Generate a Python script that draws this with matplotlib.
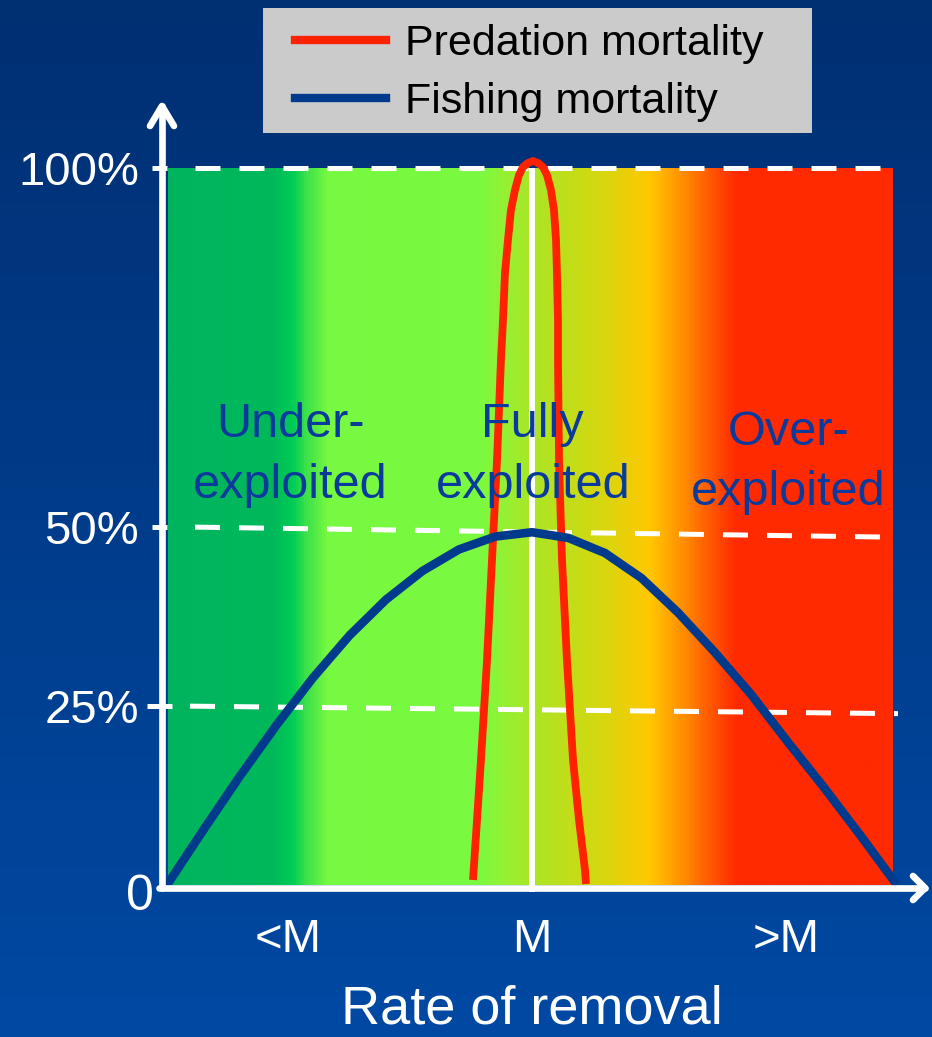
import numpy as np
import matplotlib.pyplot as plt
from matplotlib.colors import LinearSegmentedColormap
from matplotlib.patches import Rectangle
from matplotlib.lines import Line2D

plt.rcParams['font.family'] = ['Liberation Sans', 'DejaVu Sans']

# fishing mortality (share of stock, %) against rate of removal (0-100)
fishing_x = [0, 5, 10, 15, 20, 25, 30, 35, 40, 45, 50,
             55, 60, 65, 70, 75, 80, 85, 90, 95, 100]
fishing_y = [0, 7.7, 15.2, 22.3, 28.9, 34.8, 39.8, 43.8, 46.8, 48.6, 49.2,
             48.4, 46.3, 42.8, 38.0, 32.5, 26.6, 20.0, 13.6, 6.9, 0]

# predation mortality, narrow peak around M
predation_x = [41.92, 42.47, 43.01, 43.84, 44.52, 45.21, 45.75, 46.03, 46.30, 46.71,
               47.12, 47.67, 48.22, 48.77, 49.45, 50.14,
               50.82, 51.51, 52.05, 52.60, 53.01, 53.29, 53.42, 53.56, 53.56,
               53.70, 54.11, 54.79, 55.62, 56.44, 57.26, 57.40]
predation_y = [0.70, 9.07, 17.43, 31.38, 45.33, 59.27, 73.22, 78.80, 85.36, 89.96,
               94.14, 96.93, 99.02, 100.14, 100.70, 100.98,
               100.70, 100.14, 99.02, 96.93, 94.14, 89.96, 85.36, 78.80, 73.22,
               59.27, 45.33, 31.38, 17.43, 9.07, 2.09, 0.14]

# reference levels (value at left end, value at right end)
level_left = [100, 50, 25]
level_right = [100, 48.5, 23.9]
ytick_values = [100, 50, 25, 0]
ytick_labels = ['100%', '50%', '25%', '0']

M = 50
xtick_values = [16.6, 50, 84.8]
xtick_labels = ['<M', 'M', '>M']

zone_x = [16.85, 50.1, 85.1]
zone_line1 = ['Under-', 'Fully', 'Over-']
zone_line2 = ['exploited', 'exploited', 'exploited']
zone_y1 = [62.5, 62.5, 61.4]
zone_y2 = [54.0, 54.0, 53.0]

# colour band along the removal axis
band_pos = [0, .145, .171, .189, .219, .43, .465, .513, .60, .665, .713, .748, .785, 1]
band_col = ['#00B45F', '#00B95A', '#00CD55', '#3CE14B', '#76F940', '#7AFA40',
            '#96F032', '#AFE423', '#D7D70F', '#FFC800', '#FF8C00', '#FF5A00',
            '#FF2A00', '#FF2A00']

# pixel -> data helpers for layout
X0, SX = 167, 7.3
Y0, SY = 885, 7.17
W, H = 932, 1037


def px(x):
    return (x - X0) / SX


def py(y):
    return (Y0 - y) / SY


fig = plt.figure(figsize=(W / 100, H / 100), dpi=100)
ax = fig.add_axes([0, 0, 1, 1])
xlim = (px(0), px(W))
ylim = (py(H), py(0))

# background
bg = LinearSegmentedColormap.from_list('bg', ['#0049A3', '#002F72'])
ax.imshow(np.linspace(0, 1, 256).reshape(-1, 1)[::-1], cmap=bg, aspect='auto',
          extent=(xlim[0], xlim[1], ylim[0], ylim[1]), zorder=0)

# colour band
band = LinearSegmentedColormap.from_list('band', list(zip(band_pos, band_col)))
ax.imshow(np.linspace(0, 1, 800).reshape(1, -1), cmap=band, aspect='auto',
          interpolation='bilinear', extent=(px(168), px(893), 0, 100), zorder=1)

# vertical line at M
ax.plot([M, M], [py(892), 100], color='white', lw=4.3, zorder=2,
        solid_capstyle='butt')

# dashed reference levels
for yl, yr in zip(level_left, level_right):
    x_start = px(195) if yl != 25 else px(190)
    slope = (yr - yl) / (px(898) - px(152))
    ys = yl + slope * (x_start - px(152))
    ax.plot([x_start, px(898)], [ys, yr], color='white', lw=3.6,
            dashes=(5, 3.8), solid_capstyle='butt', zorder=3)
    tick_l = px(152) if yl != 25 else px(147)
    tick_r = px(167) if yl != 25 else px(172)
    ax.plot([tick_l, tick_r], [yl, yl], color='white', lw=3.6,
            solid_capstyle='butt', zorder=3)

# curves
ax.plot(predation_x, predation_y, color='#FF2200', lw=5.6, zorder=4,
        solid_joinstyle='round', solid_capstyle='butt')
ax.plot(fishing_x, fishing_y, color='#003A8C', lw=6.2, zorder=5,
        solid_joinstyle='round', solid_capstyle='butt')

# axes with arrow heads
ax_kw = dict(color='white', lw=4.8, solid_capstyle='round',
             solid_joinstyle='round', zorder=6)
ax.plot([px(162), px(162)], [py(888), py(106)], **ax_kw)
ax.plot([px(150), px(162), px(174)], [py(126), py(106), py(126)], **ax_kw)
ax.plot([px(159), px(925)], [py(888), py(888)], **ax_kw)
ax.plot([px(913), px(925), px(913)], [py(876), py(888), py(900)], **ax_kw)

# tick labels
for v, lab in zip(ytick_values, ytick_labels):
    if lab == '0':
        ax.text(px(154), py(910), lab, color='white', fontsize=36,
                ha='right', va='baseline', zorder=7)
    else:
        ax.text(px(139), v - 2.4, lab, color='white', fontsize=34,
                ha='right', va='baseline', zorder=7)
for v, lab in zip(xtick_values, xtick_labels):
    ax.text(v, py(952), lab, color='white', fontsize=34, ha='center',
            va='baseline', zorder=7)
ax.text(M, py(1023), 'Rate of removal', color='white', fontsize=39,
        ha='center', va='baseline', zorder=7)

# zone labels
for x, t1, t2, y1, y2 in zip(zone_x, zone_line1, zone_line2, zone_y1, zone_y2):
    ax.text(x, y1, t1, color='#0A3A9C', fontsize=35, ha='center',
            va='baseline', zorder=7)
    ax.text(x, y2, t2, color='#0A3A9C', fontsize=35, ha='center',
            va='baseline', zorder=7)

# legend on a grey panel
ax.add_patch(Rectangle((px(263), py(133)), px(812) - px(263), py(8) - py(133),
                       facecolor='#CBCBCB', edgecolor='none', zorder=8))
handles = [Line2D([], [], color='#FF2200', lw=6),
           Line2D([], [], color='#003A8C', lw=6)]
leg = ax.legend(handles, ['Predation mortality', 'Fishing mortality'],
                loc='upper left', bbox_to_anchor=(295 / W, 1 - 24 / H),
                bbox_transform=fig.transFigure, frameon=False, fontsize=31,
                borderpad=0, borderaxespad=0, handlelength=2.11,
                handletextpad=0.44, labelspacing=0.42)
leg.set_zorder(9)

ax.set_xlim(*xlim)
ax.set_ylim(*ylim)
ax.axis('off')

fig.savefig('out.png', dpi=100)
